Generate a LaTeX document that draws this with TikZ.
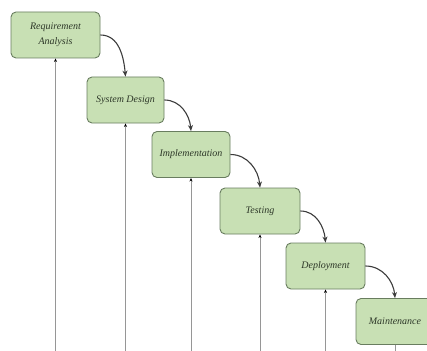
\documentclass[tikz,border=0pt]{standalone}
\usepackage{fontspec}
\setmainfont{Liberation Serif}
\usetikzlibrary{arrows.meta}
\definecolor{boxfill}{RGB}{200,224,180}
\definecolor{boxline}{RGB}{105,125,95}
\definecolor{txt}{RGB}{45,55,40}
\definecolor{flow}{RGB}{60,60,60}
\definecolor{vline}{RGB}{150,150,150}
\tikzset{
  phase/.style={draw=boxline, line width=0.9pt, fill=boxfill, rounded corners=5pt,
    minimum width=78pt, minimum height=46pt, inner sep=1pt, align=center,
    font=\itshape\fontsize{10}{15}\selectfont, text=txt},
  flowarrow/.style={draw=flow, line width=1.1pt, -{Stealth[length=6pt,width=5pt]}},
  feedback/.style={draw=vline, line width=0.9pt, -{Stealth[length=3.5pt,width=3pt,color=black]}}
}
\begin{document}
\begin{tikzpicture}[x=1pt,y=-1pt]
\useasboundingbox (0,0) rectangle (427,350);
\clip (0,0) rectangle (427,350);
\node[phase, minimum width=89pt] (b1) at (55.5,35) {Requirement\\Analysis};
\node[phase, minimum width=77pt] (b2) at (125.5,100) {System Design};
\node[phase] (b3) at (191,154.5) {Implementation};
\node[phase, minimum width=80pt] (b4) at (260,211) {Testing};
\node[phase, minimum width=79pt] (b5) at (325.5,266) {Deployment};
\node[phase] (b6) at (395,321.5) {Maintenance};
\foreach \i in {1,...,6}{
  \coordinate (e\i) at (b\i.south |- 0,352);
}
\foreach \i in {1,...,5}{
  \draw[feedback] (e\i) -- (b\i.south);
}
\draw[draw=vline, line width=0.9pt] (e6) -- (b6.south);
\draw[flowarrow] (b1.east) to[out=0,in=95] (b2.north);
\draw[flowarrow] (b2.east) to[out=0,in=95] (b3.north);
\draw[flowarrow] (b3.east) to[out=0,in=95] (b4.north);
\draw[flowarrow] (b4.east) to[out=0,in=95] (b5.north);
\draw[flowarrow] (b5.east) to[out=0,in=95] (b6.north);
\end{tikzpicture}
\end{document}
